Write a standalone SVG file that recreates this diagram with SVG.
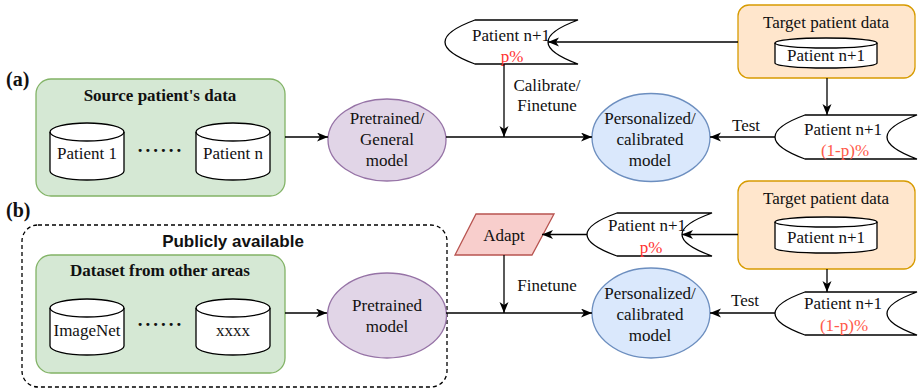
<svg xmlns="http://www.w3.org/2000/svg" width="918" height="389" viewBox="0 0 918 389" font-family="'Liberation Serif', 'Times New Roman', Times, 'DejaVu Serif', serif">
  <style>
    text { font-family: "Liberation Serif", "Times New Roman", Times, "DejaVu Serif", serif; font-size: 17px; fill: #111111; text-anchor: middle; }
    .bold { font-weight: bold; }
    .panel { font-size: 20px; font-weight: bold; text-anchor: start; }
    .sans { font-family: "Liberation Sans", Arial, sans-serif; font-weight: bold; }
    .red { fill: #ff3333; }
    .red2 { fill: #ff5a4a; }
    .dots { font-size: 19px; font-weight: bold; letter-spacing: 3px; }
    .green { fill: #d5e8d4; stroke: #82b366; stroke-width: 1.3; }
    .orange { fill: #ffe6cc; stroke: #d79b00; stroke-width: 1.3; }
    .purple { fill: #e1d5e7; stroke: #9673a6; stroke-width: 1.3; }
    .blue { fill: #dae8fc; stroke: #6c8ebf; stroke-width: 1.3; }
    .pink { fill: #f8cecc; stroke: #b85450; stroke-width: 1.3; }
    .shape { fill: #ffffff; stroke: #000000; stroke-width: 1.3; }
    .inner { fill: none; stroke: #000000; stroke-width: 1.3; }
    .dash { fill: none; stroke: #000000; stroke-width: 1.3; stroke-dasharray: 4 3; }
    .edge { fill: none; stroke: #000000; stroke-width: 1.3; }
    .arrow { marker-end: url(#head); }
  </style>
  <defs>
    <marker id="head" markerUnits="userSpaceOnUse" markerWidth="12" markerHeight="10" refX="11" refY="4.5" orient="auto">
      <path d="M0,0 L11,4.5 L0,9 L3,4.5 Z" fill="#000000"/>
    </marker>
  </defs>

  <!-- panel labels -->
  <text class="panel" x="6" y="86">(a)</text>
  <text class="panel" x="6" y="217">(b)</text>

  <!-- ===== (a) ===== -->
  <g id="source-data">
    <rect class="green" x="36" y="79" width="249" height="117" rx="15"/>
    <text class="bold" x="160" y="101">Source patient's data</text>
  </g>
  <g id="patient-1">
    <path class="shape" d="M50,132 A37,9 0 0 1 124,132 V171 A37,9 0 0 1 50,171 Z"/>
    <path class="inner" d="M50,132 A37,9 0 0 0 124,132"/>
    <text x="87" y="159">Patient 1</text>
  </g>
  <text class="dots" x="161" y="152">......</text>
  <g id="patient-n">
    <path class="shape" d="M196,132 A37,9 0 0 1 270,132 V171 A37,9 0 0 1 196,171 Z"/>
    <path class="inner" d="M196,132 A37,9 0 0 0 270,132"/>
    <text x="233" y="159">Patient n</text>
  </g>
  <g id="pretrained-general">
    <ellipse class="purple" cx="387" cy="140" rx="59" ry="41"/>
    <text x="387" y="124">Pretrained/</text>
    <text x="387" y="145">General</text>
    <text x="387" y="166">model</text>
  </g>
  <g id="personalized-a">
    <ellipse class="blue" cx="651" cy="137.5" rx="59" ry="44"/>
    <text x="650" y="124">Personalized/</text>
    <text x="650" y="145">calibrated</text>
    <text x="650" y="166">model</text>
  </g>
  <g id="target-a">
    <rect class="orange" x="738" y="5" width="177" height="73" rx="11"/>
    <text x="826" y="28">Target patient data</text>
    <path class="shape" d="M775,43 A51,5 0 0 1 877,43 V63 A51,5 0 0 1 775,63 Z"/>
    <path class="inner" d="M775,43 A51,5 0 0 0 877,43"/>
    <text x="826" y="61">Patient n+1</text>
  </g>
  <g id="split-p-a">
    <path class="shape" d="M475,20 H578 Q518,42 578,64 H475 Q415,42 475,20 Z"/>
    <text x="511" y="41">Patient n+1</text>
    <text class="red" x="512" y="62">p%</text>
  </g>
  <g id="split-rest-a">
    <path class="shape" d="M805,115 H917 Q857,137 917,159 H805 Q745,137 805,115 Z"/>
    <text x="843" y="135">Patient n+1</text>
    <text class="red2" x="845" y="156">(1-p)%</text>
  </g>

  <!-- ===== (b) ===== -->
  <g id="public">
    <rect class="dash" x="22" y="225" width="425" height="162" rx="16"/>
    <text class="sans" x="233" y="247">Publicly available</text>
  </g>
  <g id="other-datasets">
    <rect class="green" x="36" y="255" width="249" height="118" rx="15"/>
    <text class="bold" x="160" y="276">Dataset from other areas</text>
  </g>
  <g id="imagenet">
    <path class="shape" d="M50,308 A37,9 0 0 1 124,308 V346 A37,9 0 0 1 50,346 Z"/>
    <path class="inner" d="M50,308 A37,9 0 0 0 124,308"/>
    <text x="87" y="336">ImageNet</text>
  </g>
  <text class="dots" x="161" y="326">......</text>
  <g id="xxxx">
    <path class="shape" d="M196,308 A37,9 0 0 1 270,308 V346 A37,9 0 0 1 196,346 Z"/>
    <path class="inner" d="M196,308 A37,9 0 0 0 270,308"/>
    <text x="233" y="336">xxxx</text>
  </g>
  <g id="pretrained-b">
    <ellipse class="purple" cx="387" cy="315.5" rx="59.5" ry="42.5"/>
    <text x="387" y="311">Pretrained</text>
    <text x="387" y="332">model</text>
  </g>
  <g id="adapt">
    <polygon class="pink" points="476,214 554,214 532,255 455,255"/>
    <text x="504" y="241">Adapt</text>
  </g>
  <g id="personalized-b">
    <ellipse class="blue" cx="651" cy="313" rx="59" ry="45"/>
    <text x="650" y="299">Personalized/</text>
    <text x="650" y="320">calibrated</text>
    <text x="650" y="341">model</text>
  </g>
  <g id="target-b">
    <rect class="orange" x="738" y="181" width="177" height="88" rx="11"/>
    <text x="826" y="204">Target patient data</text>
    <path class="shape" d="M775,222 A51,5 0 0 1 877,222 V248 A51,5 0 0 1 775,248 Z"/>
    <path class="inner" d="M775,222 A51,5 0 0 0 877,222"/>
    <text x="826" y="243">Patient n+1</text>
  </g>
  <g id="split-p-b">
    <path class="shape" d="M617,213 H712 Q652,234.5 712,256 H617 Q557,234.5 617,213 Z"/>
    <text x="647" y="231">Patient n+1</text>
    <text class="red" x="651" y="253">p%</text>
  </g>
  <g id="split-rest-b">
    <path class="shape" d="M805,292 H917 Q857,313.5 917,335 H805 Q745,313.5 805,292 Z"/>
    <text x="843" y="309">Patient n+1</text>
    <text class="red2" x="844" y="331">(1-p)%</text>
  </g>

  <!-- connectors -->
  <g id="connectors">
    <!-- (a) -->
    <path class="edge arrow" d="M285,137 H328"/>
    <path class="edge arrow" d="M446,137 H592"/>
    <path class="edge arrow" d="M504,64 V137"/>
    <path class="edge arrow" d="M738,42 H548"/>
    <path class="edge arrow" d="M827,78 V115"/>
    <path class="edge arrow" d="M775,137 H710"/>
    <!-- (b) -->
    <path class="edge arrow" d="M285,313 H327"/>
    <path class="edge arrow" d="M446,313 H592"/>
    <path class="edge arrow" d="M504,255 V313"/>
    <path class="edge arrow" d="M587,234.5 H542"/>
    <path class="edge arrow" d="M738,234.5 H682"/>
    <path class="edge arrow" d="M827,269 V292"/>
    <path class="edge arrow" d="M775,313 H710"/>
  </g>

  <!-- connector labels -->
  <g id="edge-labels">
    <text x="547" y="91">Calibrate/</text>
    <text x="547" y="111">Finetune</text>
    <text x="746" y="131">Test</text>
    <text x="547" y="291">Finetune</text>
    <text x="745" y="306">Test</text>
  </g>
</svg>
